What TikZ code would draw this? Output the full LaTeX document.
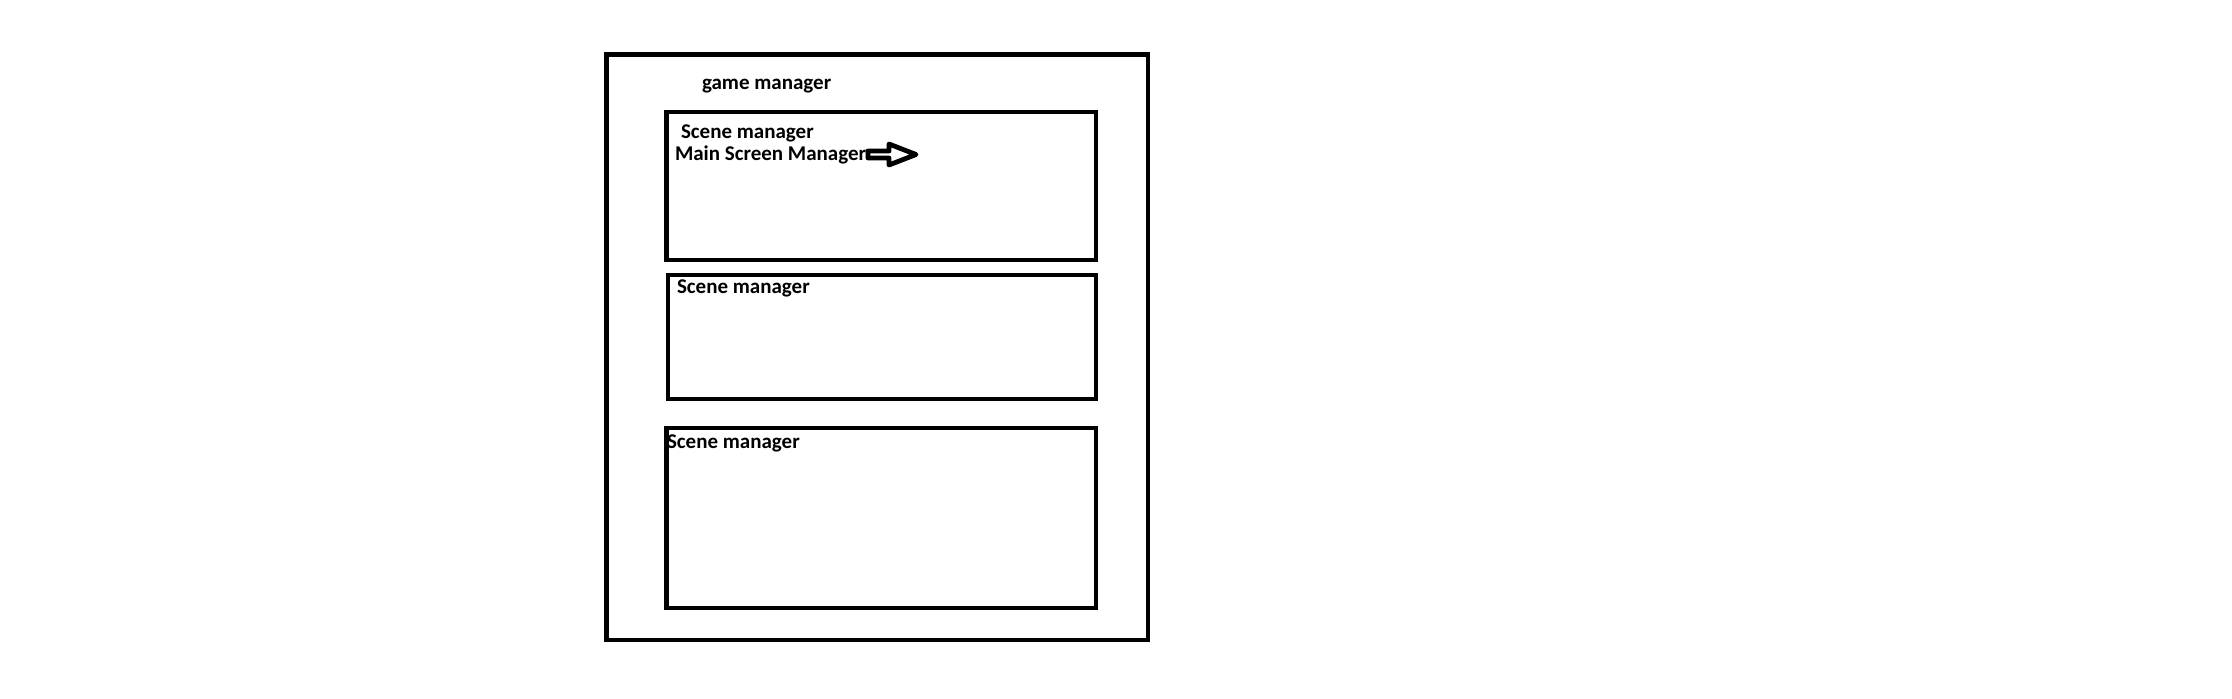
\documentclass[tikz,border=0pt]{standalone}
\usepackage{fontspec}
\setmainfont{Carlito}
\begin{document}
\begin{tikzpicture}[x=0.5pt,y=-0.5pt,
  frame/.style={draw=black,line width=2.4pt,inner sep=0pt,outer sep=0pt},
  lbl/.style={inner sep=0pt,outer sep=0pt,anchor=base west,font=\fontsize{10.5pt}{12pt}\selectfont\bfseries},
  blockarrow/.style={draw=black,line width=2.4pt,line join=round,fill=white}]
\useasboundingbox (0,0) rectangle (2232,698);
\fill[white] (0,0) rectangle (2232,698);
% outer frame
\node[frame,minimum width=270.75pt,minimum height=292.75pt] (outer) at (877.25,347.25) {};
\node[lbl] (gm) at (702,89) {game manager};
% scene boxes
\node[frame,minimum width=214.75pt,minimum height=74pt] (s1) at (881.25,186) {};
\node[frame,minimum width=214pt,minimum height=62pt] (s2) at (882,337) {};
\node[frame,minimum width=214.75pt,minimum height=90pt] (s3) at (881.25,518) {};
\node[lbl] (s1t) at (681,138) {Scene manager};
\node[lbl] (mt) at (675,160) {Main Screen Manager};
\node[lbl] (s2t) at (677,293) {Scene manager};
\node[lbl] (s3t) at (667,448) {Scene manager};
% block arrow
\coordinate (ar) at (868,154.5);
\draw[blockarrow] (ar) ++(0,-3.5) -- ++(21,0) -- ++(0,-7) -- ++(27,10.5) -- ++(-27,10.5) -- ++(0,-7) -- ++(-21,0) -- cycle;
\end{tikzpicture}
\end{document}
